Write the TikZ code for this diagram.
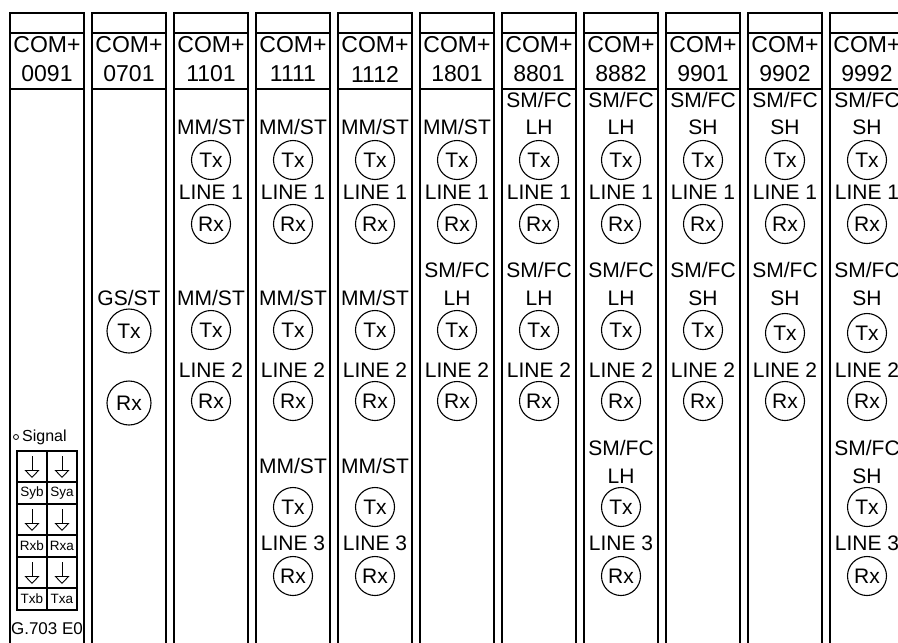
\documentclass[tikz,border=0pt]{standalone}
\usepackage{fontspec}
\setmainfont{Liberation Sans}
\usetikzlibrary{arrows.meta}

\tikzset{
  rack/.style={line width=1.6pt},
  head/.style={inner sep=0pt, font=\fontsize{23}{23}\selectfont},
  txt/.style={inner sep=0pt, font=\fontsize{21}{21}\selectfont},
  port/.style={draw, circle, line width=1.1pt, minimum size=39pt, inner sep=0pt, font=\fontsize{21}{21}\selectfont},
  bigport/.style={port, minimum size=44pt},
  cell/.style={inner sep=0pt, font=\fontsize{13.5}{13.5}\selectfont},
  grid/.style={line width=1.1pt},
  down/.style={line width=0.9pt, -{Triangle[open, width=15pt, length=8pt]}},
}

\begin{document}
\begin{tikzpicture}[x=1pt, y=-1pt]
  \clip (0, 0) rectangle (898, 643);
  \fill[white] (0, 0) rectangle (898, 643);

  % module frames
  \draw[rack] (10, 13) rectangle (84, 660) (10, 33) -- (84, 33) (10, 89) -- (84, 89);
  \draw[rack] (92, 13) rectangle (166, 660) (92, 33) -- (166, 33) (92, 89) -- (166, 89);
  \draw[rack] (174, 13) rectangle (248, 660) (174, 33) -- (248, 33) (174, 89) -- (248, 89);
  \draw[rack] (256, 13) rectangle (330, 660) (256, 33) -- (330, 33) (256, 89) -- (330, 89);
  \draw[rack] (338, 13) rectangle (412, 660) (338, 33) -- (412, 33) (338, 89) -- (412, 89);
  \draw[rack] (420, 13) rectangle (494, 660) (420, 33) -- (494, 33) (420, 89) -- (494, 89);
  \draw[rack] (502, 13) rectangle (576, 660) (502, 33) -- (576, 33) (502, 89) -- (576, 89);
  \draw[rack] (584, 13) rectangle (658, 660) (584, 33) -- (658, 33) (584, 89) -- (658, 89);
  \draw[rack] (666, 13) rectangle (740, 660) (666, 33) -- (740, 33) (666, 89) -- (740, 89);
  \draw[rack] (748, 13) rectangle (822, 660) (748, 33) -- (822, 33) (748, 89) -- (822, 89);
  \draw[rack] (830, 13) rectangle (904, 660) (830, 33) -- (904, 33) (830, 89) -- (904, 89);

  % headers
  \node[head] (c0091) at (47, 45) {COM+};   \node[head] (n0091) at (47, 74) {0091};
  \node[head] (c0701) at (129, 45) {COM+};  \node[head] (n0701) at (129, 74) {0701};
  \node[head] (c1101) at (211, 45) {COM+};  \node[head] (n1101) at (211, 74) {1101};
  \node[head] (c1111) at (293, 45) {COM+};  \node[head] (n1111) at (293, 74) {1111};
  \node[head] (c1112) at (375, 45) {COM+};  \node[head] (n1112) at (375, 74) {1112};
  \node[head] (c1801) at (457, 45) {COM+};  \node[head] (n1801) at (457, 74) {1801};
  \node[head] (c8801) at (539, 45) {COM+};  \node[head] (n8801) at (539, 74) {8801};
  \node[head] (c8882) at (621, 45) {COM+};  \node[head] (n8882) at (621, 74) {8882};
  \node[head] (c9901) at (703, 45) {COM+};  \node[head] (n9901) at (703, 74) {9901};
  \node[head] (c9902) at (785, 45) {COM+};  \node[head] (n9902) at (785, 74) {9902};
  \node[head] (c9992) at (867, 45) {COM+};  \node[head] (n9992) at (867, 74) {9992};

  % 0091
  \node[draw, circle, minimum size=5pt, inner sep=0pt, line width=0.8pt] (dot) at (16, 437) {};
  \node[anchor=west, inner sep=0pt, font=\fontsize{16}{16}\selectfont] (signal) at (22, 437) {Signal};
  \draw[grid] (17, 451) rectangle (77, 610) (47, 451) -- (47, 610);
  \draw[grid] (17, 482) -- (77, 482) (17, 504) -- (77, 504) (17, 535) -- (77, 535);
  \draw[grid] (17, 557) -- (77, 557) (17, 588) -- (77, 588);
  \draw[down] (32, 456) -- (32, 478);  \draw[down] (62, 456) -- (62, 478);
  \draw[down] (32, 509) -- (32, 531);  \draw[down] (62, 509) -- (62, 531);
  \draw[down] (32, 562) -- (32, 584);  \draw[down] (62, 562) -- (62, 584);
  \node[cell] (syb) at (32, 493) {Syb};  \node[cell] (sya) at (62, 493) {Sya};
  \node[cell] (rxb) at (32, 546) {Rxb};  \node[cell] (rxa) at (62, 546) {Rxa};
  \node[cell] (txb) at (32, 599) {Txb};  \node[cell] (txa) at (62, 599) {Txa};
  \node[inner sep=0pt, font=\fontsize{17}{17}\selectfont] (g703) at (47, 629) {G.703 E0};

  % 0701
  \node[txt] (ty0701) at (129, 298) {GS/ST};
  \node[bigport] (tx0701) at (129, 331) {Tx};
  \node[bigport] (rx0701) at (129, 403) {Rx};

  % 1101
  \node[txt] (ty1101a) at (211, 127) {MM/ST};
  \node[port] (tx1101a) at (211, 160) {Tx};
  \node[txt] (ln1101a) at (211, 192) {LINE 1};
  \node[port] (rx1101a) at (211, 224) {Rx};
  \node[txt] (ty1101b) at (211, 298) {MM/ST};
  \node[port] (tx1101b) at (211, 330) {Tx};
  \node[txt] (ln1101b) at (211, 370) {LINE 2};
  \node[port] (rx1101b) at (211, 401) {Rx};

  % 1111
  \node[txt] (ty1111a) at (293, 127) {MM/ST};
  \node[port] (tx1111a) at (293, 160) {Tx};
  \node[txt] (ln1111a) at (293, 192) {LINE 1};
  \node[port] (rx1111a) at (293, 224) {Rx};
  \node[txt] (ty1111b) at (293, 298) {MM/ST};
  \node[port] (tx1111b) at (293, 330) {Tx};
  \node[txt] (ln1111b) at (293, 370) {LINE 2};
  \node[port] (rx1111b) at (293, 401) {Rx};
  \node[txt] (ty1111c) at (293, 466) {MM/ST};
  \node[port] (tx1111c) at (293, 507) {Tx};
  \node[txt] (ln1111c) at (293, 543) {LINE 3};
  \node[port] (rx1111c) at (293, 576) {Rx};

  % 1112
  \node[txt] (ty1112a) at (375, 127) {MM/ST};
  \node[port] (tx1112a) at (375, 160) {Tx};
  \node[txt] (ln1112a) at (375, 192) {LINE 1};
  \node[port] (rx1112a) at (375, 224) {Rx};
  \node[txt] (ty1112b) at (375, 298) {MM/ST};
  \node[port] (tx1112b) at (375, 330) {Tx};
  \node[txt] (ln1112b) at (375, 370) {LINE 2};
  \node[port] (rx1112b) at (375, 401) {Rx};
  \node[txt] (ty1112c) at (375, 466) {MM/ST};
  \node[port] (tx1112c) at (375, 507) {Tx};
  \node[txt] (ln1112c) at (375, 543) {LINE 3};
  \node[port] (rx1112c) at (375, 576) {Rx};

  % 1801
  \node[txt] (ty1801a) at (457, 127) {MM/ST};
  \node[port] (tx1801a) at (457, 160) {Tx};
  \node[txt] (ln1801a) at (457, 192) {LINE 1};
  \node[port] (rx1801a) at (457, 224) {Rx};
  \node[txt] (ty1801b) at (457, 270) {SM/FC};
  \node[txt] (sb1801b) at (457, 298) {LH};
  \node[port] (tx1801b) at (457, 330) {Tx};
  \node[txt] (ln1801b) at (457, 370) {LINE 2};
  \node[port] (rx1801b) at (457, 401) {Rx};

  % 8801
  \node[txt] (ty8801a) at (539, 100) {SM/FC};
  \node[txt] (sb8801a) at (539, 127) {LH};
  \node[port] (tx8801a) at (539, 160) {Tx};
  \node[txt] (ln8801a) at (539, 192) {LINE 1};
  \node[port] (rx8801a) at (539, 224) {Rx};
  \node[txt] (ty8801b) at (539, 270) {SM/FC};
  \node[txt] (sb8801b) at (539, 298) {LH};
  \node[port] (tx8801b) at (539, 330) {Tx};
  \node[txt] (ln8801b) at (539, 370) {LINE 2};
  \node[port] (rx8801b) at (539, 401) {Rx};

  % 8882
  \node[txt] (ty8882a) at (621, 100) {SM/FC};
  \node[txt] (sb8882a) at (621, 127) {LH};
  \node[port] (tx8882a) at (621, 160) {Tx};
  \node[txt] (ln8882a) at (621, 192) {LINE 1};
  \node[port] (rx8882a) at (621, 224) {Rx};
  \node[txt] (ty8882b) at (621, 270) {SM/FC};
  \node[txt] (sb8882b) at (621, 298) {LH};
  \node[port] (tx8882b) at (621, 330) {Tx};
  \node[txt] (ln8882b) at (621, 370) {LINE 2};
  \node[port] (rx8882b) at (621, 401) {Rx};
  \node[txt] (ty8882c) at (621, 448) {SM/FC};
  \node[txt] (sb8882c) at (621, 476) {LH};
  \node[port] (tx8882c) at (621, 507) {Tx};
  \node[txt] (ln8882c) at (621, 543) {LINE 3};
  \node[port] (rx8882c) at (621, 576) {Rx};

  % 9901
  \node[txt] (ty9901a) at (703, 100) {SM/FC};
  \node[txt] (sb9901a) at (703, 127) {SH};
  \node[port] (tx9901a) at (703, 160) {Tx};
  \node[txt] (ln9901a) at (703, 192) {LINE 1};
  \node[port] (rx9901a) at (703, 224) {Rx};
  \node[txt] (ty9901b) at (703, 270) {SM/FC};
  \node[txt] (sb9901b) at (703, 298) {SH};
  \node[port] (tx9901b) at (703, 330) {Tx};
  \node[txt] (ln9901b) at (703, 370) {LINE 2};
  \node[port] (rx9901b) at (703, 401) {Rx};

  % 9902
  \node[txt] (ty9902a) at (785, 100) {SM/FC};
  \node[txt] (sb9902a) at (785, 127) {SH};
  \node[port] (tx9902a) at (785, 160) {Tx};
  \node[txt] (ln9902a) at (785, 192) {LINE 1};
  \node[port] (rx9902a) at (785, 224) {Rx};
  \node[txt] (ty9902b) at (785, 270) {SM/FC};
  \node[txt] (sb9902b) at (785, 298) {SH};
  \node[port] (tx9902b) at (785, 333) {Tx};
  \node[txt] (ln9902b) at (785, 370) {LINE 2};
  \node[port] (rx9902b) at (785, 401) {Rx};

  % 9992
  \node[txt] (ty9992a) at (867, 100) {SM/FC};
  \node[txt] (sb9992a) at (867, 127) {SH};
  \node[port] (tx9992a) at (867, 160) {Tx};
  \node[txt] (ln9992a) at (867, 192) {LINE 1};
  \node[port] (rx9992a) at (867, 224) {Rx};
  \node[txt] (ty9992b) at (867, 270) {SM/FC};
  \node[txt] (sb9992b) at (867, 298) {SH};
  \node[port] (tx9992b) at (867, 333) {Tx};
  \node[txt] (ln9992b) at (867, 370) {LINE 2};
  \node[port] (rx9992b) at (867, 401) {Rx};
  \node[txt] (ty9992c) at (867, 448) {SM/FC};
  \node[txt] (sb9992c) at (867, 476) {SH};
  \node[port] (tx9992c) at (867, 507) {Tx};
  \node[txt] (ln9992c) at (867, 543) {LINE 3};
  \node[port] (rx9992c) at (867, 576) {Rx};
\end{tikzpicture}
\end{document}
